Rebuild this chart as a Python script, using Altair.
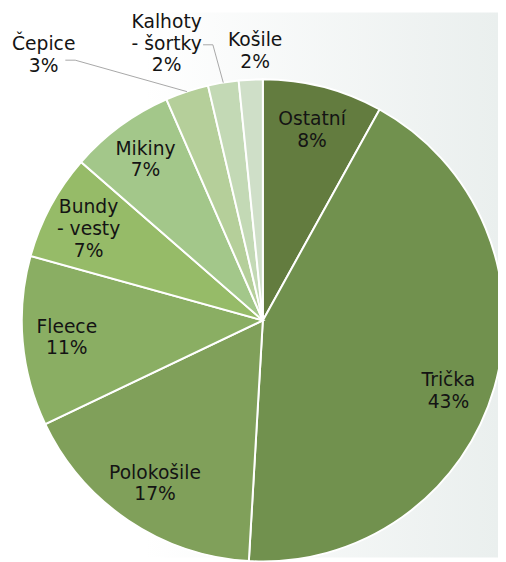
import altair as alt
import pandas as pd

# ---- data (share of items, %) ----
categories = ["Ostatní", "Trička", "Polokošile", "Fleece", "Bundy - vesty",
              "Mikiny", "Čepice", "Kalhoty - šortky", "Košile"]
shares = [8.05, 42.9, 17.0, 11.4, 7.1, 7.05, 2.9, 2.05, 1.6]
name_lines = [["Ostatní"], ["Trička"], ["Polokošile"], ["Fleece"],
              ["Bundy", "- vesty"], ["Mikiny"], ["Čepice"],
              ["Kalhoty", "- šortky"], ["Košile"]]
colors = ["#637c3f", "#71914e", "#80a05a", "#8aae63", "#96bb68",
          "#a3c78a", "#b5cf9a", "#c3d9b5", "#cfdfc8"]

labels = ["\n".join(n + [f"{round(s)}%"]) for n, s in zip(name_lines, shares)]
nlines = {c: len(n) + 1 for c, n in zip(categories, name_lines)}
df = pd.DataFrame({"cat": categories, "share": shares,
                   "idx": list(range(len(categories))), "label": labels})

# ---- layout ----
W, H = 498, 554
CX, CY, R = 259, 313, 245
FONT = "DejaVu Sans"
FS = 19
LH = 22

# label placement (block centre): radius, dx, dy, leader-line anchor offset
placement = {
    "Ostatní": (200, 0, 0, None),
    "Trička": (200, -3.5, 16, None),
    "Polokošile": (200, 2, 0, None),
    "Fleece": (200, 0, 0, None),
    "Bundy - vesty": (200, -1, 2, None),
    "Mikiny": (200, -1, -2, None),
    "Čepice": (285, -133, 1, (22, 5)),
    "Kalhoty - šortky": (285, -51, 0, (37, 1)),
    "Košile": (275, 6, 1, None),
}

base = alt.Chart(df)

bg = alt.Chart(alt.Data(values=[{}])).mark_rect(
    color=alt.LinearGradient(
        gradient="linear", x1=0, x2=1, y1=0, y2=0,
        stops=[alt.GradientStop(color="#ffffff", offset=0),
               alt.GradientStop(color="#ffffff", offset=0.28),
               alt.GradientStop(color="#eaefee", offset=1)])
).encode(x=alt.value(0), x2=alt.value(W), y=alt.value(0), y2=alt.value(H))

arcs = base.mark_arc(radius=R, stroke="white", strokeWidth=2).encode(
    theta=alt.Theta("share:Q", stack=True),
    order=alt.Order("idx:Q"),
    color=alt.Color("cat:N", scale=alt.Scale(domain=categories, range=colors),
                    legend=None),
    x=alt.value(CX), y=alt.value(CY),
)

angles = base.transform_window(
    cum="sum(share)", sort=[alt.SortField("idx")], frame=[None, 0]
).transform_joinaggregate(total="sum(share)").transform_calculate(
    mid="(datum.cum - datum.share/2) / datum.total * 2 * PI"
)

layers = [bg, arcs]
for cat, (r, dx, dy, lead) in placement.items():
    sel = angles.transform_filter(alt.datum.cat == cat)
    shift = -(nlines[cat] - 1) / 2 * LH
    layers.append(
        sel.mark_text(font=FONT, fontSize=FS, lineHeight=LH, lineBreak="\n",
                      color="#141414", align="center", baseline="middle",
                      radius=r, dx=dx, dy=dy + shift).encode(
            theta=alt.Theta("mid:Q", scale=None, stack=False),
            text="label:N",
            x=alt.value(CX), y=alt.value(CY),
        )
    )
    if lead is not None:
        ox, oy = lead
        pts = sel.transform_calculate(
            ex=f"{CX} + {R}*sin(datum.mid)",
            ey=f"{CY} - {R}*cos(datum.mid)",
            sx=f"{CX} + {r}*sin(datum.mid) + {dx + ox}",
            sy=f"{CY} - {r}*cos(datum.mid) + {dy + oy}",
            kx=f"{CX} + {r}*sin(datum.mid) + {dx + ox + 10}",
        )
        layers.append(pts.mark_rule(color="#a6a6a6", strokeWidth=1).encode(
            x=alt.X("sx:Q", scale=None), x2="kx:Q",
            y=alt.Y("sy:Q", scale=None), y2="sy:Q"))
        layers.append(pts.mark_rule(color="#a6a6a6", strokeWidth=1).encode(
            x=alt.X("kx:Q", scale=None), x2="ex:Q",
            y=alt.Y("sy:Q", scale=None), y2="ey:Q"))

chart = alt.layer(*layers).properties(
    width=W, height=H, padding=0, autosize=alt.AutoSizeParams(type="none")
).configure_view(strokeWidth=0)

chart.save("out.html", embed_options={"renderer": "svg", "actions": False})
